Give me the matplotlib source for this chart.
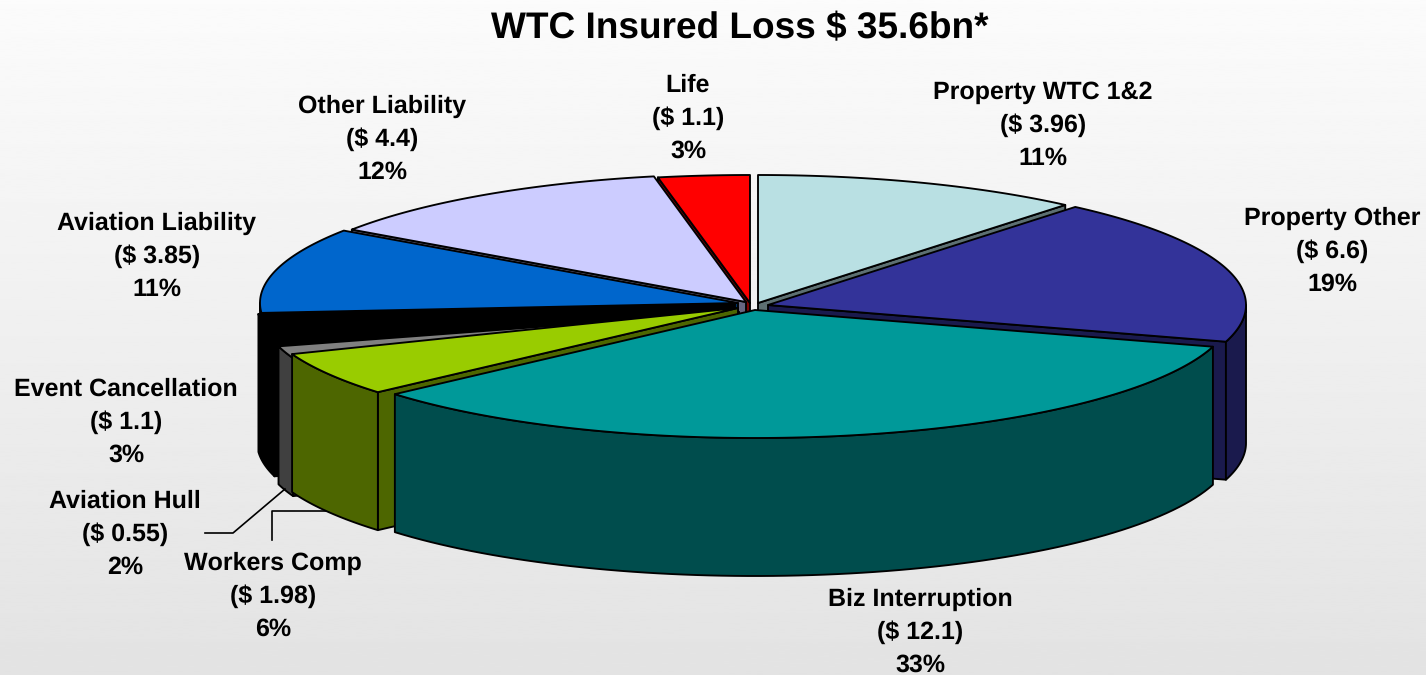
import numpy as np
import matplotlib
matplotlib.use('Agg')
import matplotlib.pyplot as plt
from matplotlib.colors import to_rgb

#chart data, clockwise from 12 o'clock
names = ['Property WTC 1&2', 'Property Other', 'Biz Interruption', 'Workers Comp',
         'Aviation Hull', 'Event Cancellation', 'Aviation Liability', 'Other Liability', 'Life']
values = [3.96, 6.6, 12.1, 1.98, 0.55, 1.1, 3.85, 4.4, 1.1]
percents = [11, 19, 33, 6, 2, 3, 11, 12, 3]
title = 'WTC Insured Loss $ 35.6bn*'

#slice colours, the walls are the same colour at half strength
colors = ['#B9E0E3', '#333399', '#009999', '#99CC00', '#808080',
          '#000000', '#0066CC', '#CCCCFF', '#FF0000']

#pie geometry in pixels
rx, ry, depth = 478, 128, 138
centers = [(758, 303), (768, 305), (755, 310), (738, 308), (739, 312),
           (735, 304), (738, 303), (746, 302), (750, 303)]
draw_order = [8, 0, 7, 1, 6, 5, 4, 3, 2]  #back to front

#label centres (x, y of the first line)
label_pos = [(1043, 92), (1332, 218), (920, 599), (273, 563), (125, 501),
             (126, 389), (157, 223), (382, 106), (688, 85)]
line_step = 33.3

plt.rcParams['font.family'] = ['Liberation Sans', 'DejaVu Sans']
plt.rcParams['text.hinting'] = 'no_hinting'
plt.rcParams['text.hinting_factor'] = 1

fig = plt.figure(figsize=(14.26, 6.75), dpi=100)
ax = fig.add_axes([0, 0, 1, 1])
ax.set_xlim(0, 1426)
ax.set_ylim(675, 0)
ax.axis('off')

#background fade
fade = np.linspace(0.985, 0.89, 256).reshape(-1, 1)
ax.imshow(fade, cmap='gray', vmin=0, vmax=1, extent=(0, 1426, 675, 0), aspect='auto', zorder=0)


def point(angle, c):
    """ellipse point, angle in degrees clockwise from the top"""
    t = np.radians(angle)
    return c[0] + rx*np.sin(t), c[1] - ry*np.cos(t)


def draw_slice(start, stop, c, color, z):
    side = tuple(0.5*v for v in to_rgb(color))
    kw = dict(edgecolor='black', linewidth=1.35, joinstyle='round')
    mid = point(0.5*(start + stop), c)

    #radial faces, only where the top of the slice lies above the edge
    for a in (start, stop):
        px, py = point(a, c)
        if abs(px - c[0]) < 1:
            continue
        on_edge = c[1] + (py - c[1])*(mid[0] - c[0])/(px - c[0])
        if mid[1] < on_edge:
            ax.fill([c[0], px, px, c[0]], [c[1], py, py + depth, c[1] + depth],
                    facecolor=side, zorder=z, **kw)

    #outer wall on the front half
    lo, hi = max(start, 90), min(stop, 270)
    if hi > lo:
        a = np.linspace(lo, hi, 80)
        x, y = point(a, c)
        ax.fill(np.r_[x, x[::-1]], np.r_[y, y[::-1] + depth], facecolor=side, zorder=z, **kw)

    #top face
    a = np.linspace(start, stop, 120)
    x, y = point(a, c)
    ax.fill(np.r_[c[0], x], np.r_[c[1], y], facecolor=color, zorder=z, **kw)


edges = np.r_[0, np.cumsum(values)]/np.sum(values)*360
for n, i in enumerate(draw_order):
    draw_slice(edges[i], edges[i+1], centers[i], colors[i], 2 + n)

#leader lines for the two small labels
ax.plot([285, 233, 205], [489, 533, 533], color='black', lw=1.2, zorder=20)
ax.plot([328, 272, 272], [511, 511, 540], color='black', lw=1.2, zorder=1.5)

for name, v, p, pos in zip(names, values, percents, label_pos):
    lines = [name, f'($ {v})', f'{p}%']
    for k, s in enumerate(lines):
        ax.text(pos[0], pos[1] + k*line_step, s, ha='center', va='center', fontsize=18,
                fontweight='bold', parse_math=False, zorder=30)

ax.text(740, 29, title, ha='center', va='center', fontsize=26.8, fontweight='bold',
        parse_math=False, zorder=30)

fig.savefig('out.png', dpi=100)
